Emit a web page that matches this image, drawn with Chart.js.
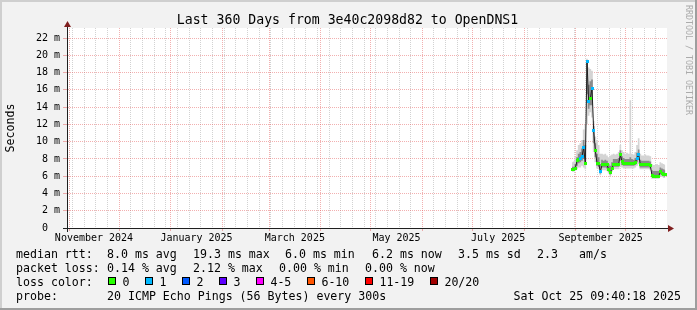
<!DOCTYPE html>
<html>
<head>
<meta charset="utf-8">
<script src="https://cdn.jsdelivr.net/npm/chart.js@4/dist/chart.umd.min.js"></script>
<style>
  html, body { margin: 0; padding: 0; background: #f2f2f2; }
  canvas { display: block; }
</style>
</head>
<body>
<canvas id="smokeChart" width="697" height="310"></canvas>
<script>
// ---- data (x = days since range start, y = ms) ----
const days = [303, 304, 305, 306, 307, 308, 309, 310, 311, 312, 313, 314, 315, 316, 317, 318, 319, 320,
  321, 322, 323, 324, 325, 326, 327, 328, 329, 330, 331, 332, 333, 334, 335, 336, 337, 338, 339, 340,
  341, 342, 343, 344, 345, 346, 347, 348, 349, 350, 351, 352, 353, 354, 355, 356, 357, 358, 359];
const median = [6.8, 6.8, 6.9, 7.8, 7.9, 8.0, 8.3, 9.3, 7.5, 19.3, 14.6, 15.0, 16.2, 11.3, 9.0, 7.5, 7.5, 6.5,
  7.3, 7.3, 7.3, 7.3, 6.8, 6.4, 6.9, 7.4, 7.4, 7.4, 7.4, 8.5, 7.7, 7.5, 7.5, 7.5, 7.5, 7.5, 7.5, 7.5,
  7.6, 8.1, 8.5, 7.3, 7.3, 7.3, 7.3, 7.3, 7.3, 7.2, 6.1, 6.0, 6.0, 6.0, 6.0, 6.5, 6.3, 6.2, 6.2];
// lost pings per step (index into lossColors)
const loss = [0, 0, 0, 0, 0, 1, 1, 1, 0, 1, 1, 0, 1, 1, 0, 0, 0, 1,
  0, 0, 0, 0, 0, 0, 0, 0, 0, 0, 0, 0, 0, 0, 0, 0, 0, 0, 0, 0,
  0, 1, 1, 0, 0, 0, 0, 0, 0, 0, 0, 0, 0, 0, 0, 0, 0, 0, 0];
// smoke: full spread of the 20 pings and the inner half
const smokeMin = [6.5, 6.5, 6.6, 6.8, 7.0, 7.0, 7.2, 7.0, 6.8, 12.0, 13.0, 13.4, 12.8, 8.8, 7.6, 6.9, 6.8, 6.1,
  6.7, 6.7, 6.7, 6.6, 6.3, 6.0, 6.5, 6.8, 6.8, 6.8, 6.8, 7.2, 7.0, 6.9, 6.9, 6.9, 6.9, 6.9, 6.9, 6.9,
  7.0, 7.2, 7.4, 6.8, 6.8, 6.8, 6.8, 6.8, 6.8, 6.7, 5.7, 5.7, 5.7, 5.7, 5.7, 6.0, 5.9, 5.8, 5.8];
const smokeMax = [7.6, 7.7, 8.2, 9.0, 9.6, 9.8, 10.2, 11.4, 12.0, 19.6, 18.6, 18.4, 18.2, 12.4, 10.6, 10.2, 9.6, 8.6,
  8.6, 8.5, 8.6, 8.4, 8.2, 8.4, 8.5, 8.6, 8.5, 8.6, 8.8, 9.6, 9.0, 8.8, 8.6, 8.7, 8.6, 14.8, 8.6, 8.5,
  8.8, 9.6, 10.4, 8.6, 8.4, 8.4, 8.5, 8.4, 8.4, 8.3, 7.4, 7.3, 7.3, 7.4, 7.3, 7.6, 7.5, 7.4, 7.3];
const smokeLo = [6.7, 6.7, 6.8, 7.2, 7.5, 7.6, 7.8, 8.0, 7.3, 15.5, 13.8, 14.2, 14.2, 9.8, 8.2, 7.2, 7.1, 6.3,
  7.0, 7.0, 7.0, 6.9, 6.5, 6.2, 6.7, 7.1, 7.1, 7.1, 7.1, 7.8, 7.3, 7.2, 7.2, 7.2, 7.2, 7.2, 7.2, 7.2,
  7.3, 7.6, 7.9, 7.0, 7.0, 7.0, 7.0, 7.0, 7.0, 6.9, 5.9, 5.8, 5.8, 5.8, 5.8, 6.2, 6.1, 6.0, 5.9];
const smokeHi = [7.1, 7.1, 7.4, 8.2, 8.6, 8.8, 9.2, 10.2, 9.6, 19.3, 16.6, 17.0, 17.2, 11.8, 9.8, 8.6, 8.2, 7.4,
  7.9, 7.8, 7.9, 7.8, 7.4, 7.2, 7.6, 8.0, 8.0, 8.0, 8.1, 9.0, 8.3, 8.1, 8.0, 8.0, 8.0, 8.2, 8.0, 7.9,
  8.1, 8.7, 9.1, 7.9, 7.8, 7.8, 7.8, 7.8, 7.8, 7.7, 6.7, 6.6, 6.6, 6.6, 6.6, 7.0, 6.9, 6.8, 6.7];

const yTicks = [0, 1, 2, 3, 4, 5, 6, 7, 8, 9, 10, 11, 12, 13, 14, 15, 16, 17, 18, 19, 20, 21, 22, 23];
const monthLabels = ['November 2024', 'January 2025', 'March 2025', 'May 2025', 'July 2025', 'September 2025'];
const labelMonths = [[2024, 10], [2025, 0], [2025, 2], [2025, 4], [2025, 6], [2025, 8]];

const titleText = 'Last 360 Days from 3e40c2098d82 to OpenDNS1';
const rttStats = ['8.0 ms avg', '19.3 ms max', '6.0 ms min', '6.2 ms now', '3.5 ms sd', '2.3', 'am/s'];
const lossStats = ['0.14 % avg', '2.12 % max', '0.00 % min', '0.00 % now'];
const lossNames = ['0', '1', '2', '3', '4-5', '6-10', '11-19', '20/20'];
const lossColors = ['#26ff00', '#00b8ff', '#0059ff', '#5e00ff', '#ff00ff', '#ff5500', '#ff0000', '#a00000'];
const probeText = '20 ICMP Echo Pings (56 Bytes) every 300s';
const stampText = 'Sat Oct 25 09:40:18 2025';

// ---- time axis helpers ----
const DAY = 86400000;
const rangeStart = Date.UTC(2024, 9, 30, 19, 12);
const dayOf = (y, m, d) => (Date.UTC(y, m, d) - rangeStart) / DAY;

function buildXTicks() {
  const ticks = [];
  for (let d = dayOf(2024, 10, 3); d <= 360; d += 7) ticks.push({ value: d, kind: 'minor' });
  for (let m = 10; m < 22; m++) {
    const v = dayOf(2024, m, 1);
    const same = ticks.find(t => Math.abs(t.value - v) < 0.01);
    if (same) same.kind = 'major'; else ticks.push({ value: v, kind: 'major' });
  }
  labelMonths.forEach(([y, m], i) => {
    const v = (dayOf(y, m, 1) + dayOf(y, m + 1, 1)) / 2;
    ticks.push({ value: v, kind: 'label', text: monthLabels[i] });
  });
  return ticks.sort((a, b) => a.value - b.value);
}

// little blocks used for the loss-coloured median (one per step, like rrdtool's columns)
function makeDot(color) {
  const c = document.createElement('canvas');
  c.width = 3; c.height = 3;
  const g = c.getContext('2d');
  g.fillStyle = color;
  g.fillRect(0, 0, 3, 3);
  return c;
}
const lossDots = lossColors.map(makeDot);

const MONO = 'DejaVu Sans Mono';
const majorGrid = 'rgba(226,80,80,0.45)';
const minorGrid = 'rgba(143,143,143,0.4)';

const frame = {
  id: 'frame',
  beforeDraw(chart) {
    const { ctx, chartArea: a, width, height } = chart;
    ctx.save();
    ctx.fillStyle = '#f2f2f2';
    ctx.fillRect(0, 0, width, height);
    ctx.fillStyle = '#cfcfcf';
    ctx.fillRect(0, 0, width, 2);
    ctx.fillRect(0, 0, 2, height);
    ctx.fillStyle = '#9e9e9e';
    ctx.fillRect(0, height - 2, width, 2);
    ctx.fillRect(width - 2, 0, 2, height);
    ctx.fillStyle = '#ffffff';
    ctx.fillRect(a.left, a.top, a.right - a.left, a.bottom - a.top);
    ctx.restore();
  },
  afterDraw(chart) {
    const { ctx, chartArea: a } = chart;
    ctx.save();
    // axis stubs and arrows
    ctx.strokeStyle = '#1f1f1f';
    ctx.lineWidth = 1;
    ctx.beginPath();
    ctx.moveTo(a.left - 4, a.bottom + 0.5); ctx.lineTo(a.right + 2, a.bottom + 0.5);
    ctx.moveTo(a.left + 0.5, a.bottom + 4); ctx.lineTo(a.left + 0.5, a.top - 3);
    ctx.stroke();
    ctx.fillStyle = '#801f1f';
    ctx.beginPath();
    ctx.moveTo(a.left + 0.5, a.top - 7); ctx.lineTo(a.left - 3, a.top - 1); ctx.lineTo(a.left + 4, a.top - 1);
    ctx.closePath(); ctx.fill();
    ctx.beginPath();
    ctx.moveTo(a.right + 7, a.bottom + 0.5); ctx.lineTo(a.right + 1, a.bottom - 3); ctx.lineTo(a.right + 1, a.bottom + 4);
    ctx.closePath(); ctx.fill();

    // title
    ctx.fillStyle = '#000';
    ctx.textBaseline = 'alphabetic';
    ctx.textAlign = 'center';
    ctx.font = '13.2px "' + MONO + '"';
    ctx.fillText(titleText, 347.5, 24);

    // vertical unit label
    ctx.font = '11.6px "' + MONO + '"';
    ctx.save();
    ctx.translate(14, 128);
    ctx.rotate(-Math.PI / 2);
    ctx.fillText('Seconds', 0, 0);
    ctx.restore();

    // watermark
    ctx.save();
    ctx.fillStyle = '#ababab';
    ctx.font = '8.3px "' + MONO + '"';
    ctx.translate(686, 60);
    ctx.rotate(Math.PI / 2);
    ctx.fillText('RRDTOOL / TOBI OETIKER', 0, 0);
    ctx.restore();

    // legend
    ctx.textAlign = 'left';
    ctx.font = '11.6px "' + MONO + '"';
    const rttX = [107, 193, 285, 372, 458, 537, 579];
    ctx.fillText('median rtt:', 16, 258);
    rttStats.forEach((s, i) => ctx.fillText(s, rttX[i], 258));
    const lossX = [107, 193, 279, 365];
    ctx.fillText('packet loss:', 16, 272);
    lossStats.forEach((s, i) => ctx.fillText(s, lossX[i], 272));
    ctx.fillText('loss color:', 16, 286);
    let bx = 108;
    lossNames.forEach((name, i) => {
      ctx.fillStyle = lossColors[i];
      ctx.fillRect(bx, 277, 8, 8);
      ctx.strokeStyle = '#000';
      ctx.strokeRect(bx + 0.5, 277.5, 7, 7);
      ctx.fillStyle = '#000';
      const lx = bx + 14.4;
      ctx.fillText(name, lx, 286);
      bx = Math.round(lx + ctx.measureText(name).width + 15.7);
    });
    ctx.fillText('probe:', 16, 300);
    ctx.fillText(probeText, 107, 300);
    ctx.textAlign = 'right';
    ctx.fillText(stampText, 681, 300);
    ctx.restore();
  }
};

const pts = arr => days.map((d, i) => ({ x: d, y: arr[i] }));
const clear = 'rgba(0,0,0,0)';

new Chart(document.getElementById('smokeChart'), {
  type: 'line',
  data: {
    datasets: [
      {
        data: pts(median), order: 0, showLine: false,
        pointRadius: 1, pointBorderWidth: 0,
        pointStyle: c => lossDots[loss[c.dataIndex]]
      },
      { data: pts(median), order: 1, borderWidth: 1, borderColor: '#202020', pointRadius: 0, tension: 0 },
      { data: pts(smokeHi), order: 2, borderWidth: 0, pointRadius: 0, stepped: 'middle', fill: '+1', backgroundColor: '#8a8a8a' },
      { data: pts(smokeLo), order: 3, borderWidth: 0, pointRadius: 0, stepped: 'middle' },
      { data: pts(smokeMax), order: 4, borderWidth: 0, pointRadius: 0, stepped: 'middle', fill: '+1', backgroundColor: '#d4d4d4' },
      { data: pts(smokeMin), order: 5, borderWidth: 0, pointRadius: 0, stepped: 'middle' }
    ]
  },
  options: {
    responsive: false,
    animation: false,
    devicePixelRatio: 1,
    events: [],
    layout: { padding: { left: 0, right: 30, top: 28, bottom: 0 } },
    plugins: { legend: { display: false }, tooltip: { enabled: false }, title: { display: false } },
    scales: {
      x: {
        type: 'linear', min: 0, max: 360,
        afterBuildTicks: s => { s.ticks = buildXTicks(); },
        afterFit: s => { s.height = 82; },
        grid: {
          color: c => c.tick && c.tick.kind === 'major' ? majorGrid : (c.tick && c.tick.kind === 'minor' ? minorGrid : clear),
          tickColor: c => c.tick && c.tick.kind === 'major' ? majorGrid : clear,
          tickLength: 3, lineWidth: 1
        },
        border: { display: true, color: '#1f1f1f', dash: [1, 1] },
        ticks: {
          autoSkip: false, maxRotation: 0, minRotation: 0, padding: 1, color: '#000',
          font: { family: MONO, size: 10 },
          callback: (v, i, ticks) => ticks[i].text || ''
        }
      },
      y: {
        min: 0, max: 23.16,
        afterBuildTicks: s => { s.ticks = yTicks.map(v => ({ value: v })); },
        afterFit: s => { s.width = 67; },
        grid: {
          color: c => c.tick && c.tick.value % 2 === 0 ? majorGrid : minorGrid,
          tickColor: c => c.tick && c.tick.value % 2 === 0 ? majorGrid : clear,
          tickLength: 4, lineWidth: 1
        },
        border: { display: true, color: '#1f1f1f', dash: [1, 1] },
        ticks: {
          padding: 3, color: '#000',
          font: { family: MONO, size: 10 },
          callback: v => v % 2 !== 0 ? '' : (v === 0 ? '0  ' : v + ' m')
        }
      }
    }
  },
  plugins: [frame]
});
</script>
</body>
</html>
